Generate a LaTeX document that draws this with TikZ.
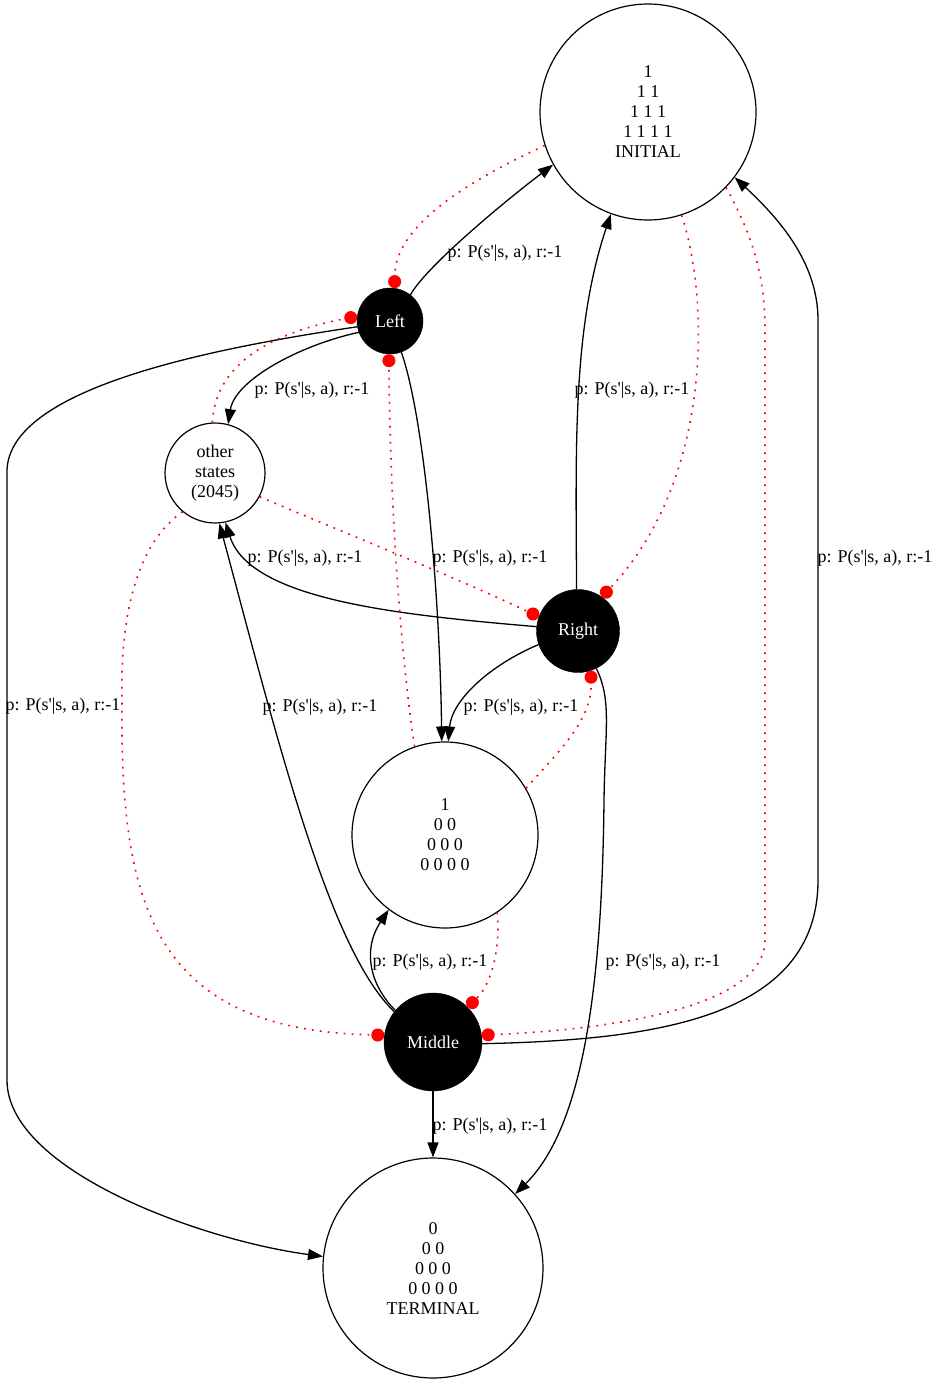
\documentclass[tikz,border=0pt]{standalone}
\usepackage{fontspec}
\setmainfont{Liberation Serif}[Ligatures=TeXOff]
\usetikzlibrary{arrows.meta}
\newcommand\plbl{p: P(s'|s, a), r:-1}
\begin{document}
\begin{tikzpicture}[x=1pt,y=-1pt,
  state/.style={circle,draw,line width=1.2pt,inner sep=0pt,align=center,
    font=\fontsize{18}{20}\selectfont},
  act/.style={circle,fill=black,draw=black,inner sep=0pt,text=white,
    font=\fontsize{18}{20}\selectfont},
  tr/.style={line width=1.3pt,-{Triangle[length=15pt,width=11pt]}},
  lnk/.style={red,line width=1.6pt,dash pattern=on 1.8pt off 6.2pt,
    -{Circle[length=13pt,width=13pt]}},
  lab/.style={font=\fontsize{18}{20}\selectfont,inner sep=0pt}]
\path[use as bounding box] (0,0) rectangle (940,1381);

% states
\node[state,minimum size=216pt] (I) at (648,112) {1\\1 1\\1 1 1\\1 1 1 1\\INITIAL};
\node[state,minimum size=100pt] (O) at (215,473) {other\\states\\(2045)};
\node[state,minimum size=186pt] (S) at (445,835) {1\\0 0\\0 0 0\\0 0 0 0};
\node[state,minimum size=220pt] (T) at (433,1268) {0\\0 0\\0 0 0\\0 0 0 0\\TERMINAL};

% actions
\node[act,minimum size=66pt] (L) at (390,321) {Left};
\node[act,minimum size=83pt] (R) at (578,631) {Right};
\node[act,minimum size=98pt] (M) at (433,1042) {Middle};

% transitions of Left
\draw[tr] (L.52) .. controls (425,268) and (500,205) .. (I.209);
\draw[tr] (L.200) .. controls (300,345) and (235,380) .. (O.75);
\draw[tr] (L.-70) .. controls (425,420) and (440,600) .. (S.92);
\draw[tr] (L.190) .. controls (200,350) and (10,390) .. (7,470) -- (7,1080)
  .. controls (7,1170) and (200,1240) .. (T.174);

% transitions of Right
\draw[tr] (R.92) .. controls (576,450) and (572,330) .. (I.-110);
\draw[tr] (R.174) .. controls (400,615) and (250,600) .. (O.-78);
\draw[tr] (R.199) .. controls (490,665) and (452,700) .. (S.88);
\draw[tr] (R.-64) .. controls (612,700) and (605,730) .. (604,800)
  .. controls (602,1000) and (580,1130) .. (T.42);

% transitions of Middle
\draw[tr] (M.142) .. controls (330,950) and (280,750) .. (O.-85);
\draw[tr] (M.140) .. controls (370,985) and (362,950) .. (S.-127);
\draw[tr] (M.south) -- (T.north);
\draw[tr] (M.-2) .. controls (650,1040) and (818,1020) .. (818,880) -- (818,320)
  .. controls (818,260) and (775,215) .. (I.-37);

% available actions
\draw[lnk] (I.198) .. controls (470,180) and (395,225) .. (L.82);
\draw[lnk] (I.-72) .. controls (710,300) and (712,480) .. (R.55);
\draw[lnk] (I.-44) .. controls (755,240) and (765,280) .. (765,330) -- (765,940)
  .. controls (765,1010) and (600,1030) .. (M.8);
\draw[lnk] (O.93) .. controls (215,370) and (260,335) .. (L.172);
\draw[lnk] (O.-28) .. controls (350,535) and (450,575) .. (R.160);
\draw[lnk] (O.-130) .. controls (135,545) and (120,620) .. (122,700)
  .. controls (120,900) and (150,1030) .. (M.172);
\draw[lnk] (S.109) .. controls (400,650) and (390,500) .. (L.-92);
\draw[lnk] (S.30) .. controls (560,750) and (592,720) .. (R.-72);
\draw[lnk] (S.-56) .. controls (500,940) and (495,980) .. (M.45);

% edge labels
\node[lab] (t1) at (505,253) {\plbl};
\node[lab] (t2) at (312,390) {\plbl};
\node[lab] (t3) at (632,390) {\plbl};
\node[lab] (t4) at (490,558) {\plbl};
\node[lab] (t5) at (305,558) {\plbl};
\node[lab] (t6) at (875,558) {\plbl};
\node[lab] (t7) at (63,706) {\plbl};
\node[lab] (t8) at (320,707) {\plbl};
\node[lab] (t9) at (521,707) {\plbl};
\node[lab] (t10) at (430,962) {\plbl};
\node[lab] (t11) at (663,962) {\plbl};
\node[lab] (t12) at (490,1126) {\plbl};
\end{tikzpicture}
\end{document}
